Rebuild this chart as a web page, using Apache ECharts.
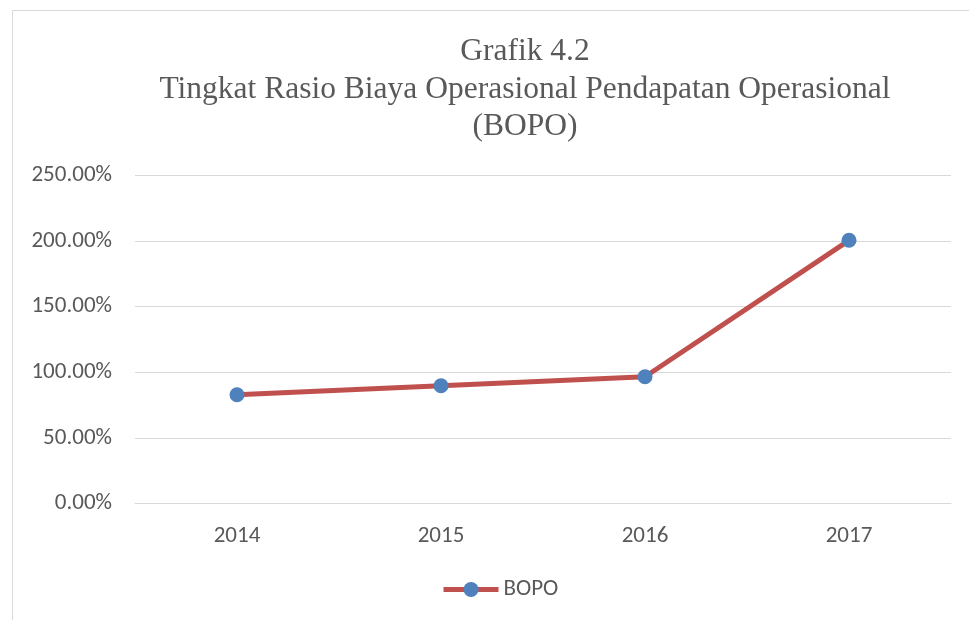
<!DOCTYPE html>
<html>
<head>
<meta charset="utf-8">
<script src="https://cdn.jsdelivr.net/npm/echarts@6/dist/echarts.min.js"></script>
<style>
html,body{margin:0;padding:0;background:#fff;}
#c{width:969px;height:620px;}
</style>
</head>
<body>
<div id="c"></div>
<script>
const titleLines = ['Grafik 4.2', 'Tingkat Rasio Biaya Operasional Pendapatan Operasional', '(BOPO)'];
const categories = ['2014', '2015', '2016', '2017'];
const seriesName = 'BOPO';
const boposValues = [82.9, 89.8, 96.6, 200.6];
const yTicks = [0, 50, 100, 150, 200, 250];

const chart = echarts.init(document.getElementById('c'), null, {renderer: 'canvas'});
const labelFont = 'Carlito, Lato, sans-serif';
chart.setOption({
  animation: false,
  backgroundColor: '#ffffff',
  graphic: [{
    type: 'rect',
    shape: {x: 12.5, y: 10.5, width: 1000, height: 700},
    style: {fill: 'none', stroke: '#D9D9D9', lineWidth: 1},
    silent: true,
    z: -1
  }],
  title: {
    text: titleLines.join('\n'),
    left: 525,
    top: 33,
    textAlign: 'center',
    padding: 0,
    textStyle: {
      fontFamily: '"Liberation Serif", "Times New Roman", serif',
      fontSize: 31.5,
      fontWeight: 'normal',
      color: '#595959',
      lineHeight: 37.5
    }
  },
  legend: {
    data: [seriesName],
    left: 441,
    top: 578,
    padding: 0,
    itemWidth: 55,
    itemHeight: 19,
    itemGap: 5,
    lineStyle: {width: 5, color: '#C0504D'},
    textStyle: {fontFamily: labelFont, fontSize: 23, color: '#595959'}
  },
  grid: {left: 135, right: 18, top: 175.5, bottom: 116.5, containLabel: false},
  xAxis: {
    type: 'category',
    data: categories,
    boundaryGap: true,
    axisLine: {show: true, lineStyle: {color: '#D9D9D9', width: 1}},
    axisTick: {show: false},
    axisLabel: {fontFamily: labelFont, fontSize: 23, color: '#595959', margin: 21}
  },
  yAxis: {
    type: 'value',
    min: yTicks[0],
    max: yTicks[yTicks.length - 1],
    interval: 50,
    axisLine: {show: false},
    axisTick: {show: false},
    splitLine: {lineStyle: {color: '#D9D9D9', width: 1}},
    axisLabel: {
      fontFamily: labelFont, fontSize: 23, color: '#595959', margin: 23,
      formatter: v => v.toFixed(2) + '%'
    }
  },
  series: [{
    name: seriesName,
    type: 'line',
    data: boposValues,
    symbol: 'circle',
    symbolSize: 15,
    lineStyle: {color: '#C0504D', width: 5},
    itemStyle: {color: '#4F81BD', borderWidth: 0},
    color: '#C0504D'
  }]
});
</script>
</body>
</html>
